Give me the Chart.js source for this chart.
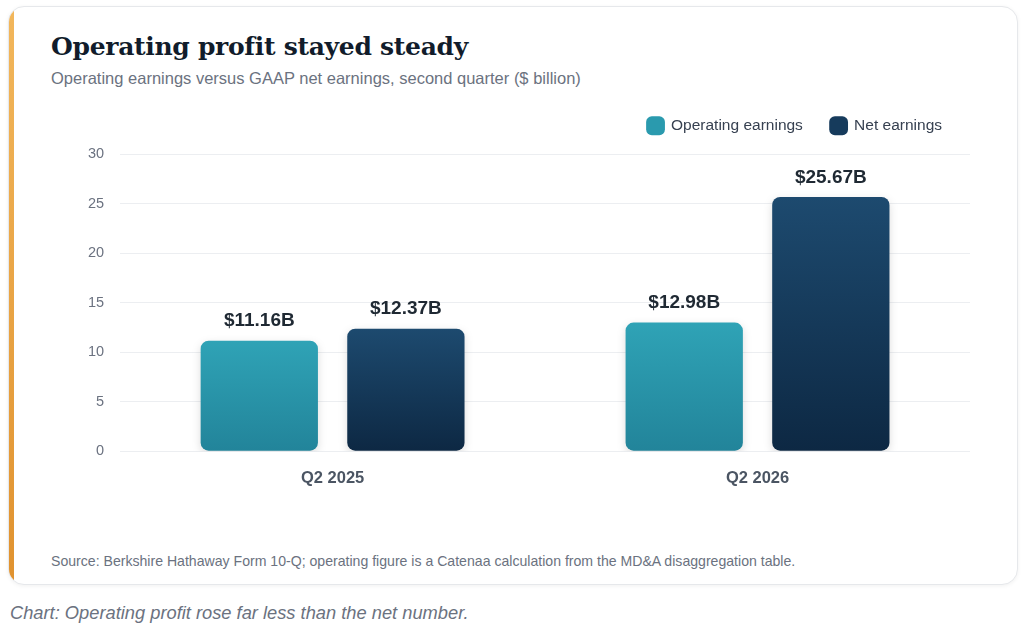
<!DOCTYPE html>
<html>
<head>
<meta charset="utf-8">
<script src="https://cdn.jsdelivr.net/npm/chart.js@4.4.1/dist/chart.umd.min.js"></script>
<style>
  html, body { margin:0; padding:0; background:#ffffff; width:1024px; height:644px; overflow:hidden; }
  .card {
    position:absolute; left:8px; top:6px; width:1010px; height:579px;
    background:#ffffff; border:1px solid #e6e8eb; border-radius:16px;
    box-shadow:0 1px 4px rgba(0,0,0,0.06); box-sizing:border-box; overflow:hidden;
  }
  .accent {
    position:absolute; left:0; top:0; bottom:0; width:5px;
    background:linear-gradient(#f2b75c, #e0922f);
  }
  .title {
    position:absolute; left:42px; top:25px; margin:0;
    font-family:"DejaVu Serif", Georgia, serif; font-weight:bold; font-size:25px; color:#111c2b;
    letter-spacing:-0.3px;
  }
  .subtitle {
    position:absolute; left:42px; top:62px;
    font-family:"Liberation Sans", Arial, sans-serif; font-size:16.5px; color:#6b7280;
  }
  .source {
    position:absolute; left:42px; top:546px;
    font-family:"Liberation Sans", Arial, sans-serif; font-size:14.1px; color:#6b7280;
  }
  .caption {
    position:absolute; left:10px; top:602px;
    font-family:"Liberation Sans", Arial, sans-serif; font-style:italic; font-size:18.3px; color:#6b7280;
  }
  .chartbox { position:absolute; left:72px; top:90px; width:908px; height:407px; }
</style>
</head>
<body>
<div class="card">
  <div class="accent"></div>
  <div class="title">Operating profit stayed steady</div>
  <div class="subtitle">Operating earnings versus GAAP net earnings, second quarter ($ billion)</div>
  <div class="source">Source: Berkshire Hathaway Form 10-Q; operating figure is a Catenaa calculation from the MD&amp;A disaggregation table.</div>
</div>
<div class="caption">Chart: Operating profit rose far less than the net number.</div>
<div class="chartbox"><canvas id="c"></canvas></div>
<script>
const categories = ["Q2 2025", "Q2 2026"];
const operatingEarnings = [11.16, 12.98];
const netEarnings = [12.37, 25.67];
const seriesNames = ["Operating earnings", "Net earnings"];
const yTicks = [0, 5, 10, 15, 20, 25, 30];

function barGradient(top, bottom) {
  return function(context) {
    const chart = context.chart;
    const area = chart.chartArea;
    if (!area) return top;
    const y = chart.scales.y;
    const v = context.raw;
    if (v === undefined) return top;
    const y0 = y.getPixelForValue(v);
    const y1 = y.getPixelForValue(0);
    const g = chart.ctx.createLinearGradient(0, y0, 0, y1);
    g.addColorStop(0, top);
    g.addColorStop(1, bottom);
    return g;
  };
}

const legendHeight = {
  id: 'legendHeight',
  beforeInit(chart) {
    const fit = chart.legend.fit;
    chart.legend.fit = function() {
      fit.bind(chart.legend)();
      this.height = 64;
    };
  }
};

const shadowPlugin = {
  id: 'barShadow',
  beforeDatasetDraw(chart) {
    const ctx = chart.ctx;
    ctx.save();
    ctx.shadowColor = 'rgba(0,0,0,0.14)';
    ctx.shadowBlur = 8;
    ctx.shadowOffsetY = 3;
  },
  afterDatasetDraw(chart) {
    chart.ctx.restore();
  }
};

const valueLabels = {
  id: 'valueLabels',
  afterDatasetsDraw(chart) {
    const ctx = chart.ctx;
    ctx.save();
    ctx.font = 'bold 19px "Liberation Sans", Arial, sans-serif';
    ctx.fillStyle = '#1f2933';
    ctx.textAlign = 'center';
    ctx.textBaseline = 'bottom';
    chart.data.datasets.forEach((ds, i) => {
      const meta = chart.getDatasetMeta(i);
      meta.data.forEach((bar, j) => {
        ctx.fillText('$' + ds.data[j].toFixed(2) + 'B', bar.x, bar.y - 10);
      });
    });
    ctx.restore();
  }
};

new Chart(document.getElementById('c'), {
  type: 'bar',
  data: {
    labels: categories,
    datasets: [
      {
        label: seriesNames[0],
        data: operatingEarnings,
        backgroundColor: barGradient('#2fa3b6', '#22849a'),
        borderRadius: 8,
        borderSkipped: false,
        categoryPercentage: 0.69,
        barPercentage: 0.8
      },
      {
        label: seriesNames[1],
        data: netEarnings,
        backgroundColor: barGradient('#1d4a6f', '#0d2843'),
        borderRadius: 8,
        borderSkipped: false,
        categoryPercentage: 0.69,
        barPercentage: 0.8
      }
    ]
  },
  options: {
    responsive: true,
    maintainAspectRatio: false,
    animation: false,
    layout: { padding: { left: 0, right: 10, top: 0, bottom: 0 } },
    plugins: {
      legend: {
        position: 'top',
        align: 'end',
        labels: {
          usePointStyle: true,
          pointStyle: 'rectRounded',
          boxWidth: 16,
          boxHeight: 16,
          padding: 28,
          color: '#374151',
          font: { family: '"Liberation Sans", Arial, sans-serif', size: 15.5 },
          generateLabels(chart) {
            const cols = ['#2a9aae', '#163b5c'];
            return chart.data.datasets.map((ds, i) => ({
              text: ds.label,
              fillStyle: cols[i],
              strokeStyle: cols[i],
              lineWidth: 0,
              pointStyle: 'rectRounded',
              datasetIndex: i,
              hidden: false,
              fontColor: '#374151'
            }));
          }
        }
      },
      tooltip: { enabled: false }
    },
    scales: {
      x: {
        grid: { display: false },
        border: { display: false },
        ticks: {
          color: '#4b5563',
          padding: 9,
          font: { family: '"Liberation Sans", Arial, sans-serif', size: 16.5, weight: 'bold' }
        }
      },
      y: {
        min: 0,
        max: 30,
        afterBuildTicks(scale) { scale.ticks = yTicks.map(v => ({ value: v })); },
        grid: { color: '#eceef1', lineWidth: 1, drawTicks: false },
        border: { display: false },
        ticks: {
          color: '#6b7280',
          padding: 16,
          font: { family: '"Liberation Sans", Arial, sans-serif', size: 14.5 }
        }
      }
    }
  },
  plugins: [legendHeight, shadowPlugin, valueLabels]
});
</script>
</body>
</html>
